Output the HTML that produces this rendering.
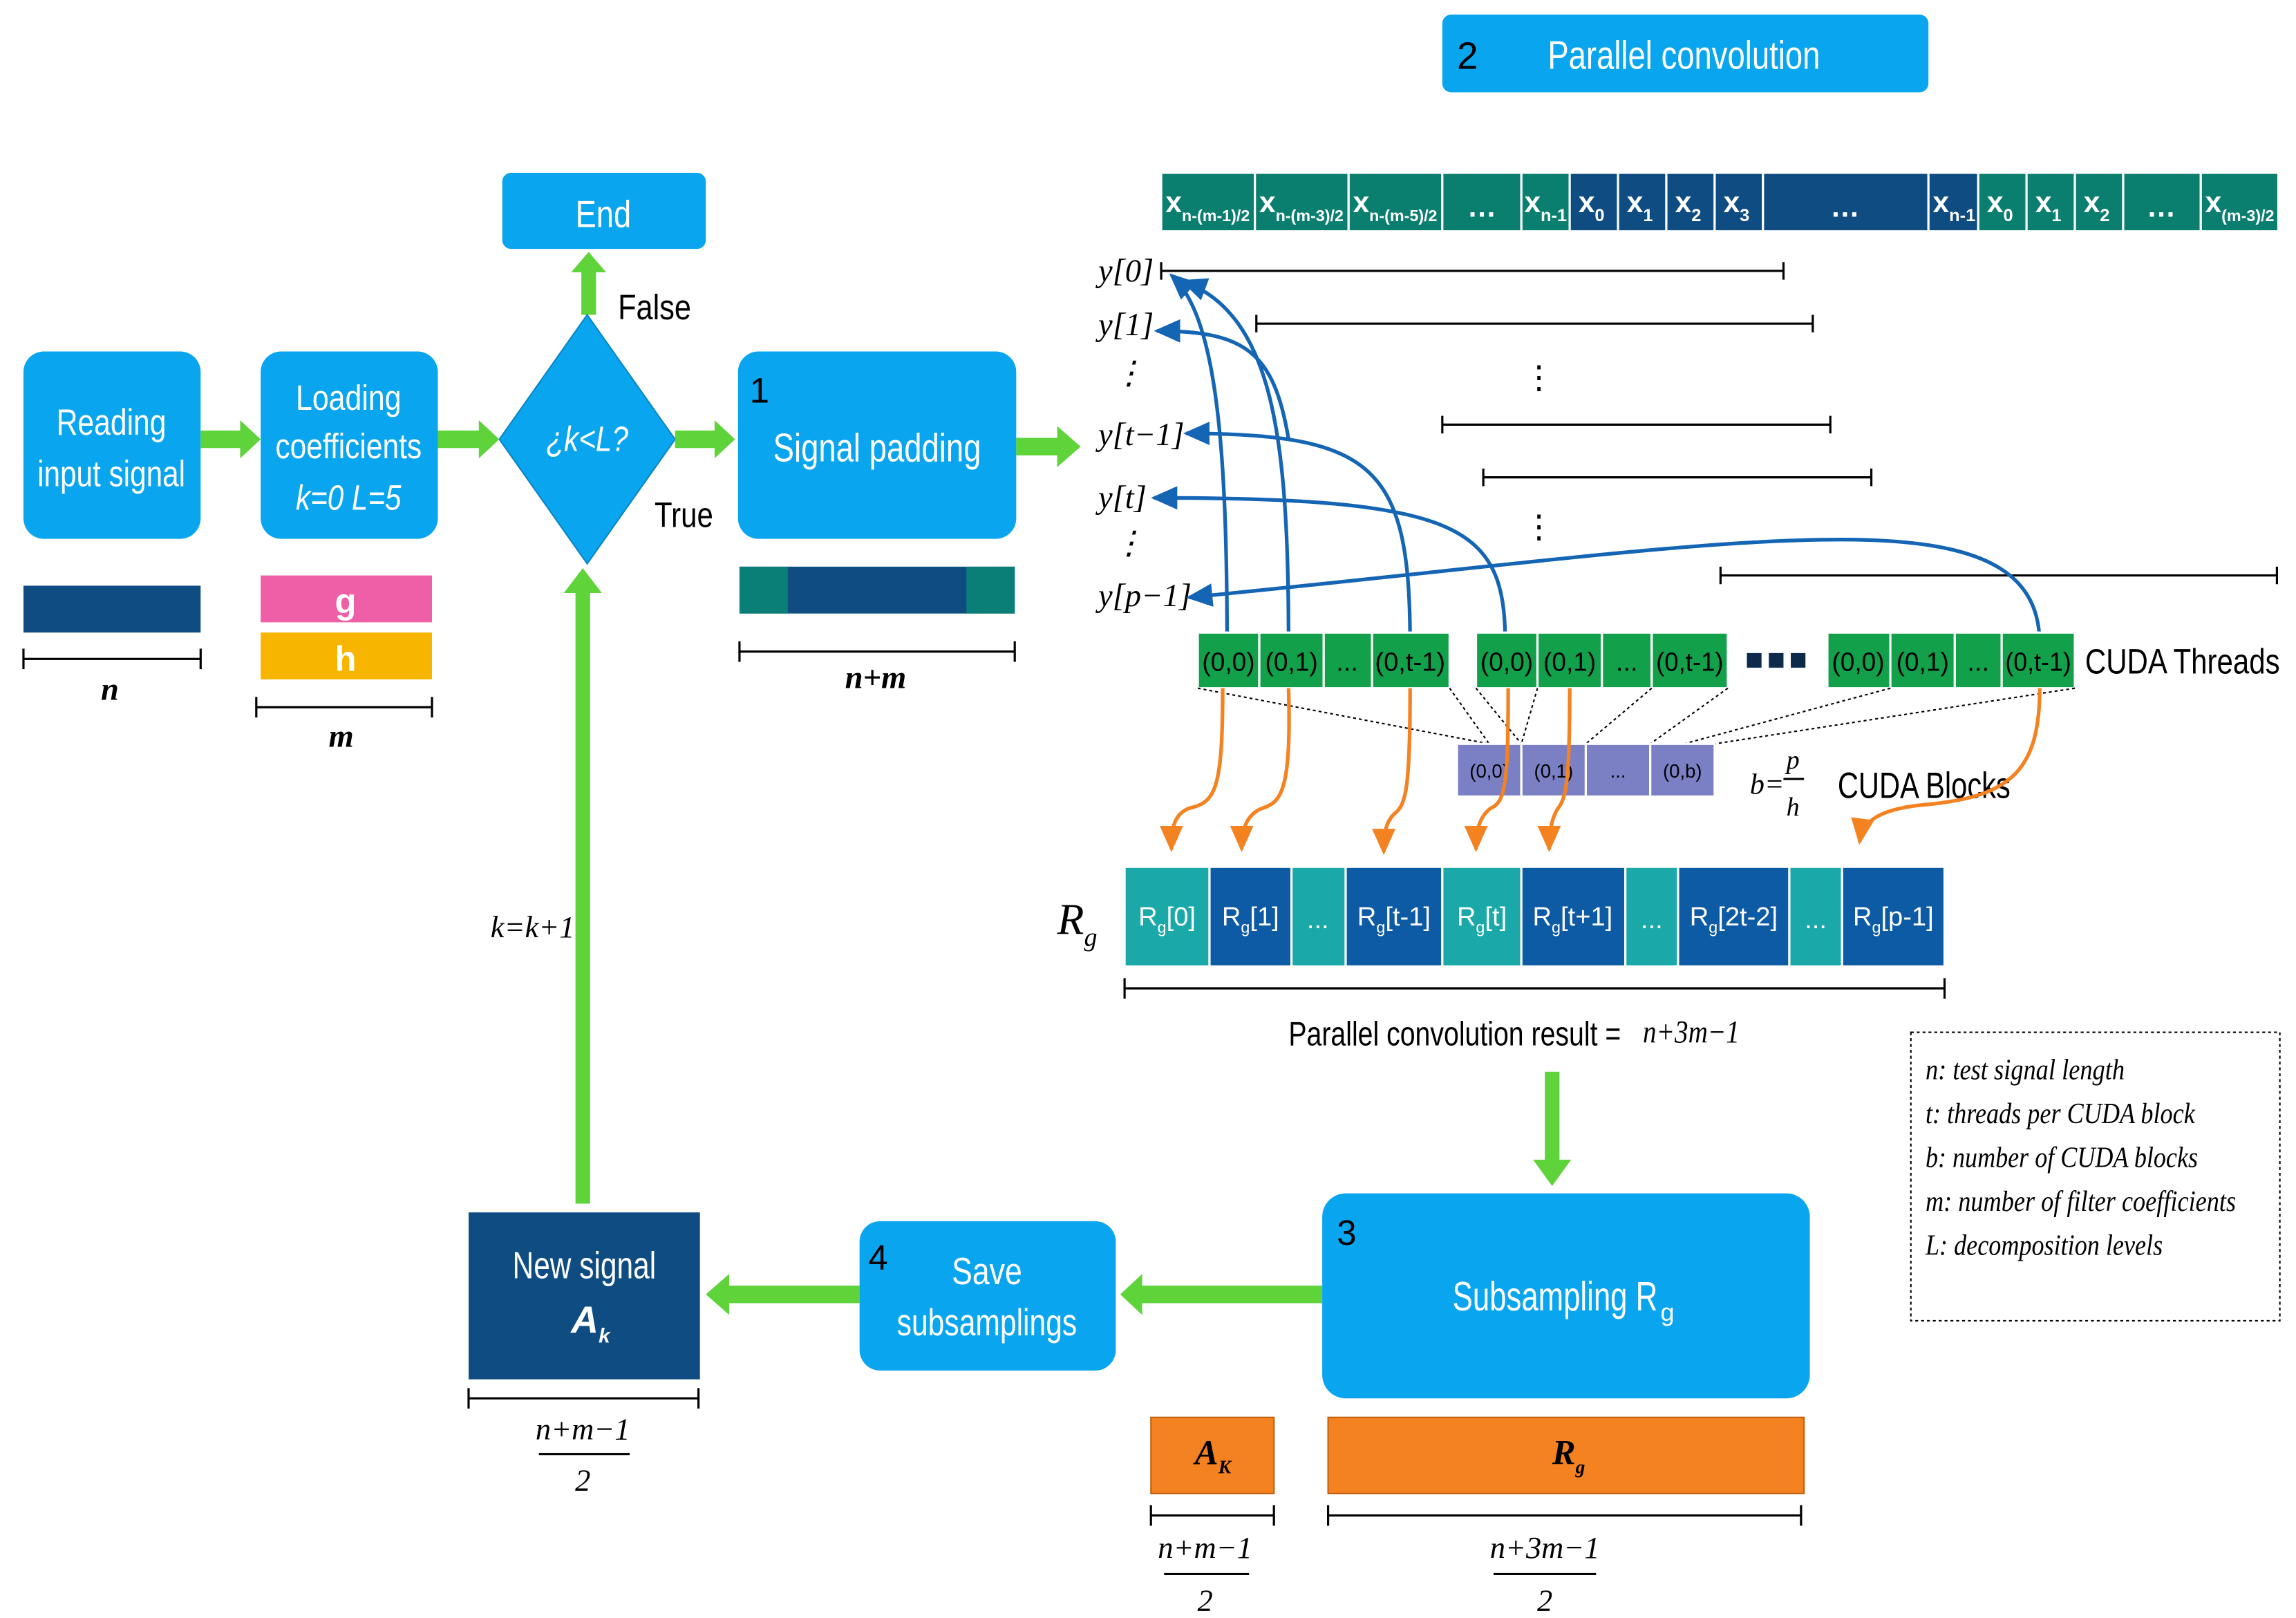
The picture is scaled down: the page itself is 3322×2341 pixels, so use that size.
<!DOCTYPE html>
<html><head><meta charset="utf-8"><style>
html,body{margin:0;padding:0;background:#fff;}
svg{display:block;}
.w{fill:#fff;font-family:"Liberation Sans",sans-serif;}
.k{fill:#000;font-family:"Liberation Sans",sans-serif;}
.s{fill:#000;font-family:"Liberation Serif",serif;font-style:italic;}
</style></head><body>
<svg width="3322" height="2341" viewBox="0 0 1568 1105" xmlns="http://www.w3.org/2000/svg">
<defs>
<marker id="bh" markerWidth="18" markerHeight="16" refX="16" refY="8" orient="auto" markerUnits="userSpaceOnUse" viewBox="0 0 18 16"><path d="M0,0 L18,8 L0,16z" fill="#1565b5"/></marker>
<marker id="oh" markerWidth="18" markerHeight="16" refX="16" refY="8" orient="auto" markerUnits="userSpaceOnUse" viewBox="0 0 18 16"><path d="M0,0 L18,8 L0,16z" fill="#f58220"/></marker>
</defs>
<style>.bl{stroke:#1565b5;stroke-width:2.5;fill:none;} .or{stroke:#f58220;stroke-width:2.5;fill:none;} .ln{stroke:#000;stroke-width:1.5;fill:none;} .gr{fill:#5fd33a;}</style>

<!-- Title -->
<rect x="985" y="10" width="332" height="53" rx="6" fill="#0aa5ef"/>
<text x="995" y="47" class="k" font-size="26">2</text>
<text x="1150" y="47" class="w" font-size="27" text-anchor="middle" textLength="186" lengthAdjust="spacingAndGlyphs">Parallel convolution</text>

<!-- End -->
<rect x="343" y="118" width="139" height="52" rx="6" fill="#0aa5ef"/>
<text x="412" y="155" class="w" font-size="26" text-anchor="middle" textLength="38" lengthAdjust="spacingAndGlyphs">End</text>
<polygon class="gr" points="397,215 397,186 390,186 402,172 414,186 407,186 407,215"/>
<text x="422" y="218" class="k" font-size="24" textLength="50" lengthAdjust="spacingAndGlyphs">False</text>

<!-- Reading -->
<rect x="16" y="240" width="121" height="128" rx="14" fill="#0aa5ef"/>
<text x="76" y="297" class="w" font-size="25" text-anchor="middle" textLength="75" lengthAdjust="spacingAndGlyphs">Reading</text>
<text x="76" y="332" class="w" font-size="25" text-anchor="middle" textLength="101" lengthAdjust="spacingAndGlyphs">input signal</text>
<!-- Loading -->
<rect x="178" y="240" width="121" height="128" rx="14" fill="#0aa5ef"/>
<text x="238" y="280" class="w" font-size="24" text-anchor="middle" textLength="72" lengthAdjust="spacingAndGlyphs">Loading</text>
<text x="238" y="313" class="w" font-size="24" text-anchor="middle" textLength="100" lengthAdjust="spacingAndGlyphs">coefficients</text>
<text x="238" y="348" class="w" font-size="24" font-style="italic" text-anchor="middle" textLength="72" lengthAdjust="spacingAndGlyphs">k=0 L=5</text>
<!-- Diamond -->
<polygon points="401,215 461,300 401,385 341,300" fill="#0aa5ef" stroke="#0a85c8" stroke-width="1"/>
<text x="401" y="308" class="w" font-size="24" font-style="italic" text-anchor="middle" textLength="56" lengthAdjust="spacingAndGlyphs">¿k&lt;L?</text>
<text x="447" y="360" class="k" font-size="24" textLength="40" lengthAdjust="spacingAndGlyphs">True</text>
<!-- Signal padding -->
<rect x="504" y="240" width="190" height="128" rx="14" fill="#0aa5ef"/>
<text x="512" y="275" class="k" font-size="24">1</text>
<text x="599" y="315" class="w" font-size="27" text-anchor="middle" textLength="142" lengthAdjust="spacingAndGlyphs">Signal padding</text>

<!-- green arrows -->
<polygon class="gr" points="137,294 164,294 164,287 178,300 164,313 164,306 137,306"/>
<polygon class="gr" points="299,294 327,294 327,287 341,300 327,313 327,306 299,306"/>
<polygon class="gr" points="461,294 488,294 488,287 502,300 488,313 488,306 461,306"/>
<polygon class="gr" points="694,299 722,299 722,291 738,305 722,319 722,311 694,311"/>
<polygon class="gr" points="393,822 393,405 385,405 398,388 411,405 403,405 403,822"/>
<polygon class="gr" points="1055,732 1055,792 1047,792 1060,810 1073,792 1065,792 1065,732"/>
<polygon class="gr" points="903,878 780,878 780,870 765,884 780,898 780,890 903,890"/>
<polygon class="gr" points="587,878 498,878 498,870 482,884 498,898 498,890 587,890"/>

<!-- under boxes -->
<rect x="16" y="400" width="121" height="32" fill="#0e4c82"/>
<path class="ln" d="M16,450 H137 M16,443 V457 M137,443 V457"/>
<text x="75" y="478" class="s" font-size="22" font-weight="bold" text-anchor="middle">n</text>
<rect x="178" y="393" width="117" height="32" fill="#ee5fa7"/>
<text x="236" y="419" class="w" font-size="24" font-weight="bold" text-anchor="middle">g</text>
<rect x="178" y="432" width="117" height="32" fill="#f7b500"/>
<text x="236" y="458" class="w" font-size="24" font-weight="bold" text-anchor="middle">h</text>
<path class="ln" d="M175,483 H295 M175,476 V490 M295,476 V490"/>
<text x="233" y="510" class="s" font-size="22" font-weight="bold" text-anchor="middle">m</text>
<rect x="505" y="387" width="188" height="32" fill="#0e4c82"/>
<rect x="505" y="387" width="33" height="32" fill="#0a7f78"/>
<rect x="660" y="387" width="33" height="32" fill="#0a7f78"/>
<path class="ln" d="M505,445 H693 M505,438 V452 M693,438 V452"/>
<text x="598" y="470" class="s" font-size="22" font-weight="bold" text-anchor="middle">n+m</text>

<!-- top signal row -->
<g stroke="#fff" stroke-width="1.5">
<rect x="793" y="118" width="64" height="40" fill="#0a7f6f"/>
<rect x="857" y="118" width="64" height="40" fill="#0a7f6f"/>
<rect x="921" y="118" width="64" height="40" fill="#0a7f6f"/>
<rect x="985" y="118" width="54" height="40" fill="#0a7f6f"/>
<rect x="1039" y="118" width="33" height="40" fill="#0a7f6f"/>
<rect x="1072" y="118" width="33" height="40" fill="#0e4c82"/>
<rect x="1105" y="118" width="33" height="40" fill="#0e4c82"/>
<rect x="1138" y="118" width="33" height="40" fill="#0e4c82"/>
<rect x="1171" y="118" width="33" height="40" fill="#0e4c82"/>
<rect x="1204" y="118" width="113" height="40" fill="#0e4c82"/>
<rect x="1317" y="118" width="34" height="40" fill="#0e4c82"/>
<rect x="1351" y="118" width="33" height="40" fill="#0a7f6f"/>
<rect x="1384" y="118" width="33" height="40" fill="#0a7f6f"/>
<rect x="1417" y="118" width="33" height="40" fill="#0a7f6f"/>
<rect x="1450" y="118" width="53" height="40" fill="#0a7f6f"/>
<rect x="1503" y="118" width="53" height="40" fill="#0a7f6f"/>
</g>
<g class="w" font-size="20" font-weight="bold">
<text x="796" y="145">x<tspan font-size="11" dy="6">n-(m-1)/2</tspan></text>
<text x="860" y="145">x<tspan font-size="11" dy="6">n-(m-3)/2</tspan></text>
<text x="924" y="145">x<tspan font-size="11" dy="6">n-(m-5)/2</tspan></text>
<text x="1012" y="148" text-anchor="middle">…</text>
<text x="1041" y="145">x<tspan font-size="12" dy="6">n-1</tspan></text>
<text x="1078" y="145">x<tspan font-size="12" dy="6">0</tspan></text>
<text x="1111" y="145">x<tspan font-size="12" dy="6">1</tspan></text>
<text x="1144" y="145">x<tspan font-size="12" dy="6">2</tspan></text>
<text x="1177" y="145">x<tspan font-size="12" dy="6">3</tspan></text>
<text x="1260" y="148" text-anchor="middle">…</text>
<text x="1320" y="145">x<tspan font-size="12" dy="6">n-1</tspan></text>
<text x="1357" y="145">x<tspan font-size="12" dy="6">0</tspan></text>
<text x="1390" y="145">x<tspan font-size="12" dy="6">1</tspan></text>
<text x="1423" y="145">x<tspan font-size="12" dy="6">2</tspan></text>
<text x="1476" y="148" text-anchor="middle">…</text>
<text x="1506" y="145">x<tspan font-size="11" dy="6">(m-3)/2</tspan></text>
</g>

<!-- y labels -->
<g class="s" font-size="22" font-style="normal">
<text x="750" y="192"><tspan font-style="italic">y</tspan>[0]</text>
<text x="750" y="229"><tspan font-style="italic">y</tspan>[1]</text>
<text x="760" y="262">⋮</text>
<text x="750" y="304"><tspan font-style="italic">y</tspan>[<tspan font-style="italic">t</tspan>−1]</text>
<text x="750" y="347"><tspan font-style="italic">y</tspan>[<tspan font-style="italic">t</tspan>]</text>
<text x="760" y="378">⋮</text>
<text x="750" y="414"><tspan font-style="italic">y</tspan>[<tspan font-style="italic">p</tspan>−1]</text>
</g>
<path class="ln" d="M793,185 H1218 M793,179 V191 M1218,179 V191
M858,221 H1238 M858,215 V227 M1238,215 V227
M985,290 H1250 M985,284 V296 M1250,284 V296
M1013,326 H1278 M1013,320 V332 M1278,320 V332
M1175,393 H1555 M1175,387 V399 M1555,387 V399"/>
<text x="1040" y="265" class="k" font-size="22">⋮</text>
<text x="1040" y="367" class="k" font-size="22">⋮</text>

<!-- blue arrows -->
<path class="bl" marker-end="url(#bh)" d="M838,440 C838,300 830,215 800,188"/>
<path class="bl" marker-end="url(#bh)" d="M880,440 C880,300 870,215 808,192"/>
<path class="bl" marker-end="url(#bh)" d="M880,300 C870,240 850,226 790,226"/>
<path class="bl" marker-end="url(#bh)" d="M963,440 C963,320 940,296 810,296"/>
<path class="bl" marker-end="url(#bh)" d="M1028,440 C1028,360 1000,340 788,340"/>
<path class="bl" marker-end="url(#bh)" d="M1393,440 C1393,330 1200,370 812,408"/>

<!-- threads -->
<g stroke="#fff" stroke-width="1.5" fill="#13a04a">
<rect x="818" y="432" width="42" height="38"/><rect x="860" y="432" width="44" height="38"/><rect x="904" y="432" width="33" height="38"/><rect x="937" y="432" width="53" height="38"/>
<rect x="1008" y="432" width="42" height="38"/><rect x="1050" y="432" width="44" height="38"/><rect x="1094" y="432" width="34" height="38"/><rect x="1128" y="432" width="52" height="38"/>
<rect x="1248" y="432" width="43" height="38"/><rect x="1291" y="432" width="44" height="38"/><rect x="1335" y="432" width="32" height="38"/><rect x="1367" y="432" width="50" height="38"/>
</g>
<g class="k" font-size="18" text-anchor="middle">
<text x="839" y="458" textLength="36" lengthAdjust="spacingAndGlyphs">(0,0)</text><text x="882" y="458" textLength="36" lengthAdjust="spacingAndGlyphs">(0,1)</text><text x="920" y="458">...</text><text x="963" y="458" textLength="48" lengthAdjust="spacingAndGlyphs">(0,t-1)</text>
<text x="1029" y="458" textLength="36" lengthAdjust="spacingAndGlyphs">(0,0)</text><text x="1072" y="458" textLength="36" lengthAdjust="spacingAndGlyphs">(0,1)</text><text x="1111" y="458">...</text><text x="1154" y="458" textLength="46" lengthAdjust="spacingAndGlyphs">(0,t-1)</text>
<text x="1269" y="458" textLength="36" lengthAdjust="spacingAndGlyphs">(0,0)</text><text x="1313" y="458" textLength="36" lengthAdjust="spacingAndGlyphs">(0,1)</text><text x="1351" y="458">...</text><text x="1392" y="458" textLength="45" lengthAdjust="spacingAndGlyphs">(0,t-1)</text>
</g>
<rect x="1193" y="446" width="10" height="10" fill="#0e2a4a"/><rect x="1208" y="446" width="10" height="10" fill="#0e2a4a"/><rect x="1223" y="446" width="10" height="10" fill="#0e2a4a"/>
<text x="1424" y="460" class="k" font-size="24" textLength="133" lengthAdjust="spacingAndGlyphs">CUDA Threads</text>

<!-- dotted lines -->
<path stroke="#000" stroke-width="1" stroke-dasharray="2,2" fill="none" d="M818,470 L1017,508 M990,470 L1017,508 M1008,470 L1039,508 M1050,470 L1039,508 M1128,470 L1083,508 M1180,470 L1127,508 M1291,470 L1150,508 M1417,470 L1171,508"/>

<!-- blocks -->
<g stroke="#fff" stroke-width="1.5" fill="#7b7fc4">
<rect x="995" y="508" width="44" height="36"/><rect x="1039" y="508" width="44" height="36"/><rect x="1083" y="508" width="44" height="36"/><rect x="1127" y="508" width="44" height="36"/>
</g>
<g class="k" font-size="13" text-anchor="middle">
<text x="1017" y="531">(0,0)</text><text x="1061" y="531">(0,1)</text><text x="1105" y="531">...</text><text x="1149" y="531">(0,b)</text>
</g>
<text x="1195" y="542" class="s" font-size="20">b=</text>
<text x="1220" y="525" class="s" font-size="18">p</text>
<path class="ln" d="M1218,532 H1232"/>
<text x="1220" y="557" class="s" font-size="18">h</text>
<text x="1255" y="545" class="k" font-size="25" textLength="118" lengthAdjust="spacingAndGlyphs">CUDA Blocks</text>

<!-- orange arrows -->
<path class="or" marker-end="url(#oh)" d="M835,470 C835,540 830,548 812,552 C802,556 800,565 800,580"/>
<path class="or" marker-end="url(#oh)" d="M880,470 C882,540 875,548 862,552 C852,556 848,565 848,580"/>
<path class="or" marker-end="url(#oh)" d="M963,470 C963,540 960,550 952,556 C946,562 945,570 945,582"/>
<path class="or" marker-end="url(#oh)" d="M1030,470 C1030,535 1028,548 1018,552 C1010,558 1008,568 1008,580"/>
<path class="or" marker-end="url(#oh)" d="M1072,470 C1072,530 1070,545 1064,552 C1060,558 1058,568 1058,580"/>
<path class="or" marker-end="url(#oh)" d="M1393,470 C1393,530 1370,545 1310,550 C1285,553 1272,560 1270,575"/>

<!-- Rg row -->
<text x="722" y="638" class="s" font-size="30" font-style="normal">R<tspan font-size="18" dy="8">g</tspan></text>
<g stroke="#fff" stroke-width="1.5">
<rect x="768" y="592" width="58" height="68" fill="#1aa9a8"/>
<rect x="826" y="592" width="56" height="68" fill="#0d5aa5"/>
<rect x="882" y="592" width="37" height="68" fill="#1aa9a8"/>
<rect x="919" y="592" width="66" height="68" fill="#0d5aa5"/>
<rect x="985" y="592" width="54" height="68" fill="#1aa9a8"/>
<rect x="1039" y="592" width="71" height="68" fill="#0d5aa5"/>
<rect x="1110" y="592" width="36" height="68" fill="#1aa9a8"/>
<rect x="1146" y="592" width="76" height="68" fill="#0d5aa5"/>
<rect x="1222" y="592" width="36" height="68" fill="#1aa9a8"/>
<rect x="1258" y="592" width="70" height="68" fill="#0d5aa5"/>
</g>
<g class="w" font-size="18" text-anchor="middle">
<text x="797" y="632">R<tspan font-size="11" dy="5">g</tspan><tspan dy="-5">[0]</tspan></text>
<text x="854" y="632">R<tspan font-size="11" dy="5">g</tspan><tspan dy="-5">[1]</tspan></text>
<text x="900" y="634">...</text>
<text x="952" y="632">R<tspan font-size="11" dy="5">g</tspan><tspan dy="-5">[t-1]</tspan></text>
<text x="1012" y="632">R<tspan font-size="11" dy="5">g</tspan><tspan dy="-5">[t]</tspan></text>
<text x="1074" y="632">R<tspan font-size="11" dy="5">g</tspan><tspan dy="-5">[t+1]</tspan></text>
<text x="1128" y="634">...</text>
<text x="1184" y="632">R<tspan font-size="11" dy="5">g</tspan><tspan dy="-5">[2t-2]</tspan></text>
<text x="1240" y="634">...</text>
<text x="1293" y="632">R<tspan font-size="11" dy="5">g</tspan><tspan dy="-5">[p-1]</tspan></text>
</g>
<path class="ln" d="M768,675 H1328 M768,668 V682 M1328,668 V682"/>
<text x="880" y="714" class="k" font-size="23" textLength="227" lengthAdjust="spacingAndGlyphs">Parallel convolution result =</text>
<text x="1122" y="712" class="s" font-size="22" textLength="66" lengthAdjust="spacingAndGlyphs">n+3m−1</text>

<!-- Subsampling -->
<rect x="903" y="815" width="333" height="140" rx="16" fill="#0aa5ef"/>
<text x="913" y="850" class="k" font-size="24">3</text>
<text x="992" y="895" class="w" font-size="28" textLength="140" lengthAdjust="spacingAndGlyphs">Subsampling R</text>
<text x="1134" y="902" class="w" font-size="17">g</text>

<!-- Legend -->
<rect x="1305" y="705" width="252" height="197" fill="none" stroke="#000" stroke-width="1" stroke-dasharray="2,2"/>
<g class="s" font-size="20">
<text x="1315" y="737" textLength="136" lengthAdjust="spacingAndGlyphs">n: test signal length</text>
<text x="1315" y="767" textLength="184" lengthAdjust="spacingAndGlyphs">t: threads per CUDA block</text>
<text x="1315" y="797" textLength="186" lengthAdjust="spacingAndGlyphs">b: number of CUDA blocks</text>
<text x="1315" y="827" textLength="212" lengthAdjust="spacingAndGlyphs">m: number of filter coefficients</text>
<text x="1315" y="857" textLength="162" lengthAdjust="spacingAndGlyphs">L: decomposition levels</text>
</g>

<!-- Save subsamplings -->
<rect x="587" y="834" width="175" height="102" rx="14" fill="#0aa5ef"/>
<text x="593" y="867" class="k" font-size="24">4</text>
<text x="674" y="877" class="w" font-size="26" text-anchor="middle" textLength="48" lengthAdjust="spacingAndGlyphs">Save</text>
<text x="674" y="912" class="w" font-size="26" text-anchor="middle" textLength="123" lengthAdjust="spacingAndGlyphs">subsamplings</text>

<!-- New signal -->
<rect x="320" y="828" width="158" height="114" fill="#0e4c82"/>
<text x="399" y="873" class="w" font-size="26" text-anchor="middle" textLength="98" lengthAdjust="spacingAndGlyphs">New signal</text>
<text x="390" y="910" class="w" font-size="26" font-style="italic" font-weight="bold" font-family="Liberation Serif,serif">A<tspan font-size="14" dy="7">k</tspan></text>
<path class="ln" d="M320,955 H477 M320,948 V962 M477,948 V962"/>
<text x="398" y="983" class="s" font-size="21" text-anchor="middle">n+m−1</text>
<path class="ln" d="M368,993 H430"/>
<text x="398" y="1018" class="s" font-size="21" text-anchor="middle" font-style="normal">2</text>
<text x="335" y="640" class="s" font-size="21">k=k+1</text>

<!-- Orange boxes -->
<rect x="786" y="968" width="84" height="52" fill="#f58220" stroke="#c06010" stroke-width="1"/>
<text x="816" y="1000" class="s" font-size="24" font-weight="bold">A<tspan font-size="13" dy="6">K</tspan></text>
<rect x="907" y="968" width="325" height="52" fill="#f58220" stroke="#c06010" stroke-width="1"/>
<text x="1060" y="1000" class="s" font-size="24" font-weight="bold" font-style="normal">R<tspan font-size="13" dy="6">g</tspan></text>
<path class="ln" d="M786,1035 H870 M786,1028 V1042 M870,1028 V1042 M907,1035 H1230 M907,1028 V1042 M1230,1028 V1042"/>
<text x="823" y="1064" class="s" font-size="21" text-anchor="middle">n+m−1</text>
<path class="ln" d="M795,1075 H853"/>
<text x="823" y="1100" class="s" font-size="21" font-style="normal" text-anchor="middle">2</text>
<text x="1055" y="1064" class="s" font-size="21" text-anchor="middle">n+3m−1</text>
<path class="ln" d="M1020,1075 H1090"/>
<text x="1055" y="1100" class="s" font-size="21" font-style="normal" text-anchor="middle">2</text>
</svg>
</body></html>
